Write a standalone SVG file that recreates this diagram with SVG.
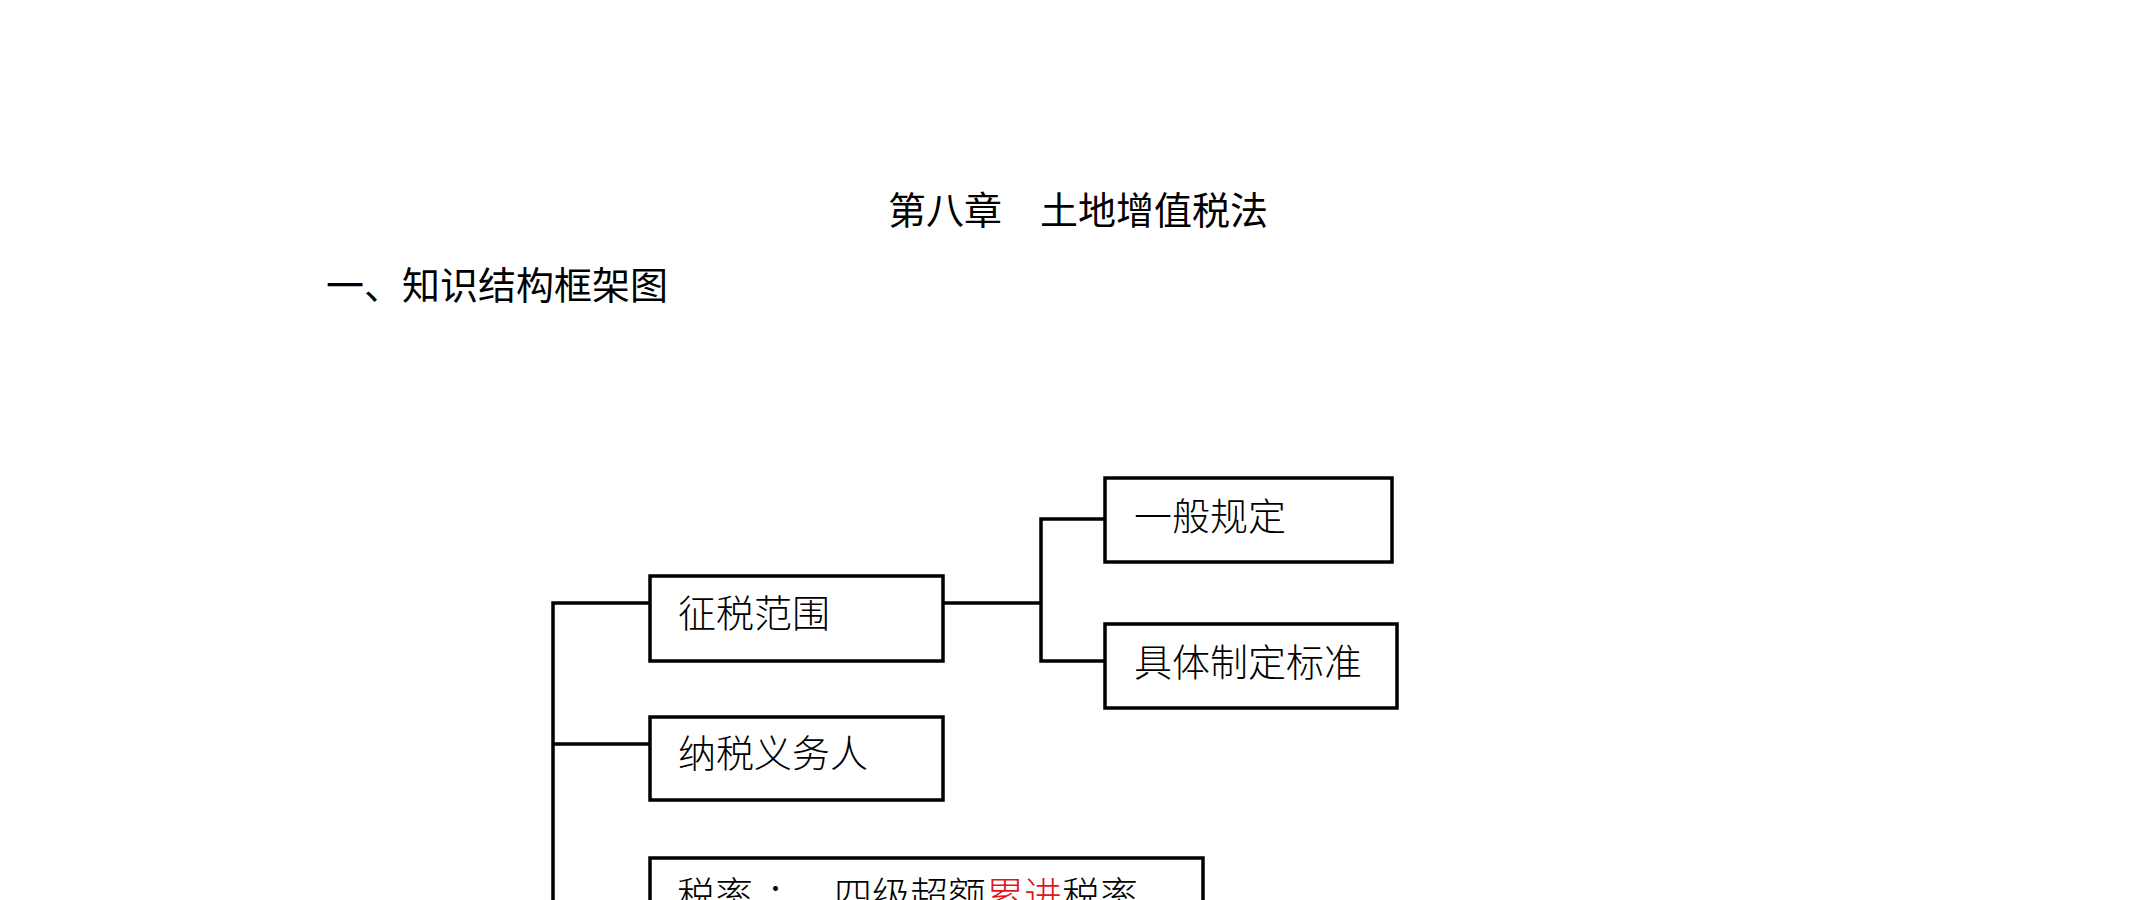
<svg xmlns="http://www.w3.org/2000/svg" width="2149" height="900" viewBox="0 0 2149 900">
<style>
.t{font-family:"Liberation Sans","Noto Sans CJK SC",sans-serif;font-size:38px;font-weight:400;fill:#000}
.b{font-family:"Liberation Serif","Noto Sans CJK SC",serif;font-size:38px;font-weight:300;fill:#000}
.box{fill:#fff;stroke:#000;stroke-width:3.5}
.ln{fill:none;stroke:#000;stroke-width:3.5}
.red{fill:#e0141e}
</style>
<rect width="2149" height="900" fill="#fff"/>
<text class="t" x="1078" y="224" text-anchor="middle">第八章　土地增值税法</text>
<text class="t" x="326" y="299">一、知识结构框架图</text>
<g id="connectors">
<polyline class="ln" points="650,603 553,603 553,902"/>
<line class="ln" x1="553" y1="744" x2="650" y2="744"/>
<line class="ln" x1="943" y1="603" x2="1041" y2="603"/>
<polyline class="ln" points="1105,519 1041,519 1041,661 1105,661"/>
</g>
<g id="n1"><rect class="box" x="650" y="576" width="293" height="85"/><text class="b" x="678" y="627">征税范围</text></g>
<g id="n2"><rect class="box" x="1105" y="478" width="287" height="84"/><text class="b" x="1134" y="530">一般规定</text></g>
<g id="n3"><rect class="box" x="1105" y="624" width="292" height="84"/><text class="b" x="1134" y="676">具体制定标准</text></g>
<g id="n4"><rect class="box" x="650" y="717" width="293" height="83"/><text class="b" x="678" y="767">纳税义务人</text></g>
<g id="n5"><rect class="box" x="650" y="858" width="553" height="80"/><text class="b" y="909"><tspan x="677">税率</tspan><tspan x="766">：</tspan><tspan x="834">四级超额</tspan><tspan class="red">累进</tspan><tspan fill="#000">税率</tspan></text></g>
</svg>
